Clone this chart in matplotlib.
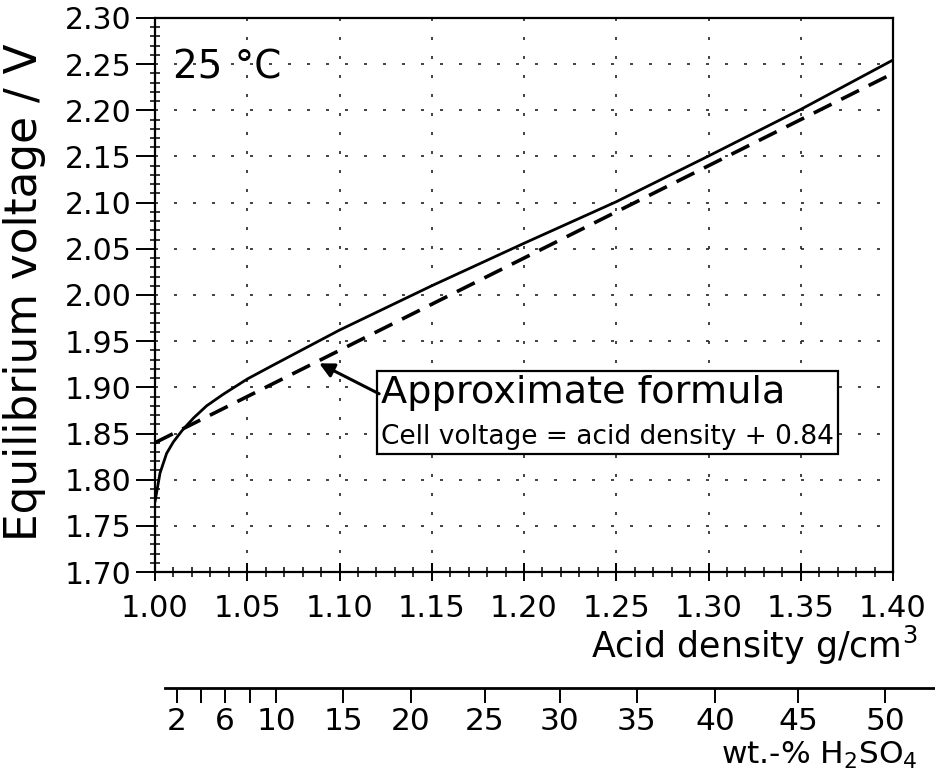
import numpy as np
import matplotlib.pyplot as plt
from matplotlib.ticker import MultipleLocator
from matplotlib.offsetbox import TextArea, VPacker, AnnotationBbox

plt.rcParams['font.family'] = 'DejaVu Sans'

# curva de tension de equilibrio
densidad = [1.000, 1.0027, 1.0063, 1.010, 1.015, 1.021, 1.028, 1.037, 1.050,
            1.064, 1.100, 1.150, 1.200, 1.250, 1.300, 1.350, 1.400]
tension = [1.776, 1.807, 1.8285, 1.841, 1.854, 1.867, 1.880, 1.8925, 1.909,
           1.924, 1.962, 2.010, 2.056, 2.101, 2.1505, 2.201, 2.2545]

# formula aproximada: tension = densidad + 0.84
dens_aprox = [1.00, 1.40]
constante = 0.84

# escala secundaria: % en peso de H2SO4 y su densidad
wt_pct = [2, 4, 6, 8, 10, 15, 20, 25, 30, 35, 40, 45, 50]
wt_dens = [1.0119, 1.0249, 1.0379, 1.0515, 1.0656, 1.1019, 1.1388, 1.1789,
           1.2195, 1.2612, 1.3035, 1.3485, 1.3957]
wt_sin_etiqueta = [4, 8]
wt_etiquetas = ['' if w in wt_sin_etiqueta else str(w) for w in wt_pct]

fig = plt.figure(figsize=(9.35, 7.8), dpi=100)
ax = fig.add_axes([155/935, 208/780, 738/935, 554/780])

# Grafica principal
ax.plot(densidad, tension, color='k', lw=2.0, solid_capstyle='round')
y_aprox = [d + constante for d in dens_aprox]
ax.plot(dens_aprox, y_aprox, color='k', lw=2.6, linestyle=(0, (5.5, 3.0)))

ax.set_xlim(1.0, 1.4)
ax.set_ylim(1.70, 2.30)
ax.xaxis.set_major_locator(MultipleLocator(0.05))
ax.xaxis.set_minor_locator(MultipleLocator(0.01))
ax.yaxis.set_major_locator(MultipleLocator(0.05))
ax.yaxis.set_minor_locator(MultipleLocator(0.01))
ax.xaxis.set_major_formatter(lambda v, p: f'{v:.2f}')
ax.yaxis.set_major_formatter(lambda v, p: f'{v:.2f}')

ax.grid(True, which='major', color='#222222', lw=1.2, linestyle=(0, (1.8, 9.6)))
for s in ax.spines.values():
    s.set_linewidth(1.6)

ax.tick_params(axis='x', which='major', direction='inout', length=13, width=1.4,
               labelsize=22, pad=9)
ax.tick_params(axis='x', which='minor', direction='inout', length=6.5, width=1.1)
ax.tick_params(axis='y', which='major', direction='out', length=14, width=1.4,
               labelsize=21.5, pad=3)
ax.tick_params(axis='y', which='minor', direction='inout', length=7, width=1.1)

ax.text(1.0098, 2.235, '25 °C', fontsize=28, ha='left', va='baseline')

# Recuadro de la formula aproximada
t1 = TextArea('Approximate formula', textprops=dict(fontsize=27.5))
t2 = TextArea('Cell voltage = acid density + 0.84', textprops=dict(fontsize=19))
caja = VPacker(children=[t1, t2], align='left', pad=0, sep=9)
ab = AnnotationBbox(caja, (1.1225, 1.8725), xycoords='data', box_alignment=(0, 0.5),
                    pad=0.3, frameon=True,
                    bboxprops=dict(edgecolor='k', lw=1.6, facecolor='white'))
ax.add_artist(ab)
ax.annotate('', xy=(1.089, 1.926), xytext=(1.1215, 1.893),
            arrowprops=dict(arrowstyle='-|>', color='k', lw=2.2,
                            mutation_scale=22, shrinkA=0, shrinkB=0))

fig.text(25/935, 1 - 292/780, 'Equilibrium voltage / V', rotation=90,
         fontsize=31.5, ha='center', va='center')
fig.text(918/935, 1 - 658/780, 'Acid density g/cm$^3$', fontsize=25,
         ha='right', va='baseline')

# Escala secundaria en % de peso
ax2 = fig.add_axes([155/935, 1 - 689/780, 738/935, 0.001])
ax2.set_xlim(1.0, 1.4)
ax2.patch.set_visible(False)
for s in ax2.spines.values():
    s.set_visible(False)
ax2.set_yticks([])
ax2.set_xticks(wt_dens, wt_etiquetas)
ax2.tick_params(axis='x', direction='out', length=10, width=1.4, labelsize=22.5, pad=3)
ax2.plot([1.0054, 1.4228], [1, 1], color='k', lw=2.0, clip_on=False,
         transform=ax2.get_xaxis_transform())
fig.text(918/935, 1 - 764/780, 'wt.-% H$_2$SO$_4$', fontsize=22.5,
         ha='right', va='baseline')

fig.savefig('out.png', dpi=100)
